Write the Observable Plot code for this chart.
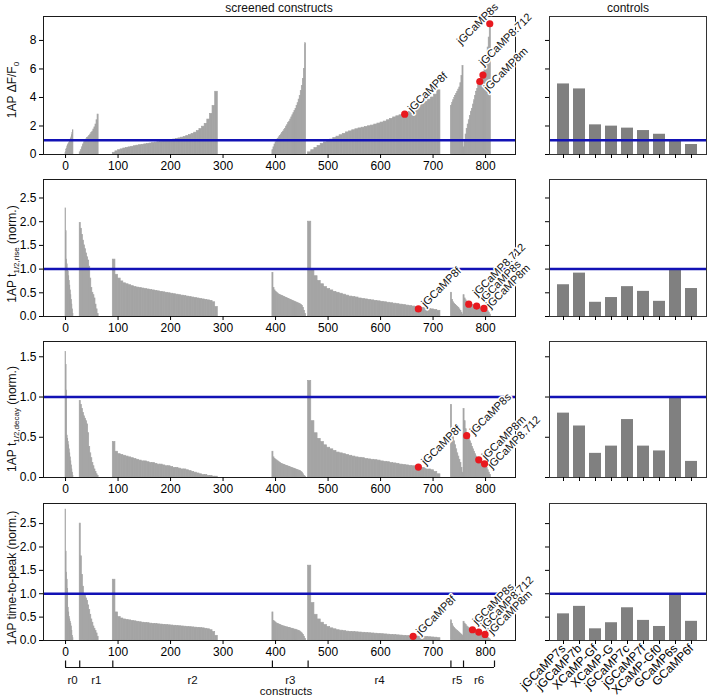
<!DOCTYPE html>
<html><head><meta charset="utf-8">
<script src="https://cdn.jsdelivr.net/npm/d3@7"></script>
<script src="https://cdn.jsdelivr.net/npm/@observablehq/plot@0.6"></script>
<style>
body{margin:0;background:#fff;}
#chart{position:relative;width:707px;height:697px;overflow:hidden;font-family:"Liberation Sans",Arial,sans-serif;}
#chart svg{position:absolute;overflow:visible;}
</style></head><body><div id="chart"></div>
<script>
// ---------- data ----------
const rounds = ["r0","r1","r2","r3","r4","r5","r6"];
const roundStart = [0,27,90,394,462,734,758];
const roundCount = [15,36,200,64,252,24,52];
const screenedEnd = 817;
const constructTicks = [0,100,200,300,400,500,600,700,800];

// values per round (each value covers roundCount/length constructs)
const dffValues = [
 [0.1,0.3,0.4,0.5,0.6,0.7,0.75,0.8,0.9,1.0,1.1,1.2,1.35,1.5,1.7],
 [0.15,0.3,0.5,0.7,0.85,0.95,1.05,1.15,1.2,1.3,1.4,1.5,1.6,1.75,1.9,2.1,2.4,2.8],
 [0.12,0.22,0.3,0.36,0.42,0.46,0.5,0.54,0.58,0.62,0.65,0.68,0.71,0.74,0.77,0.8,0.83,0.86,0.89,0.92,
  0.95,0.98,1.01,1.05,1.09,1.13,1.18,1.23,1.29,1.36,1.44,1.53,1.64,1.78,1.95,2.15,2.45,2.85,3.4,4.4],
 [0.3,0.5,0.7,0.85,1.0,1.1,1.2,1.3,1.4,1.5,1.6,1.7,1.8,1.95,2.05,2.2,2.3,2.45,2.6,2.75,2.9,3.05,3.2,3.4,3.6,3.85,4.1,4.45,4.8,5.3,6.0,7.8],
 [0.15,0.3,0.45,0.6,0.75,0.85,0.95,1.05,1.15,1.25,1.35,1.45,1.55,1.62,1.7,1.77,1.83,1.88,1.93,1.98,
  2.03,2.1,2.17,2.24,2.31,2.4,2.5,2.6,2.68,2.75,2.8,2.88,2.98,3.1,3.25,3.4,3.55,3.7,3.85,4.0,4.2,4.5],
 [3.4,3.6,3.8,3.95,4.1,4.25,4.4,4.55,4.7,5.0,5.5,6.2],
 [0.5,1.0,1.4,1.8,2.1,2.4,2.7,3.0,3.2,3.5,3.8,4.1,4.4,4.6,4.85,5.1,5.3,5.5,5.6,5.8,6.1,6.5,7.0,7.5,8.2,9.2]
];
const riseValues = [
 [2.28,1.8,1.2,1.1,1.0,0.95,0.85,0.75,0.65,0.55,0.45,0.35,0.25,0.15,0.05],
 [1.97,1.85,1.72,1.6,1.5,1.42,1.33,1.25,1.18,1.05,0.8,0.6,0.5,0.45,0.38,0.25,0.15,0.05],
 [1.2,0.88,0.8,0.74,0.7,0.68,0.66,0.64,0.62,0.61,0.6,0.59,0.58,0.57,0.56,0.55,0.54,0.53,0.52,0.51,
  0.5,0.49,0.48,0.47,0.46,0.45,0.44,0.43,0.42,0.41,0.4,0.39,0.38,0.37,0.36,0.35,0.34,0.33,0.3,0.2],
 [0.92,0.6,0.55,0.52,0.5,0.48,0.46,0.45,0.44,0.43,0.42,0.41,0.4,0.39,0.38,0.37,0.36,0.35,0.34,0.33,0.32,0.31,0.3,0.29,0.28,0.27,0.26,0.24,0.22,0.18,0.12,0.05],
 [2.0,1.0,0.85,0.75,0.68,0.62,0.58,0.55,0.52,0.5,0.48,0.46,0.44,0.42,0.41,0.4,0.38,0.37,0.36,0.35,
  0.34,0.33,0.32,0.31,0.3,0.29,0.28,0.27,0.26,0.25,0.24,0.23,0.22,0.21,0.2,0.19,0.18,0.17,0.16,0.15,0.14,0.12],
 [0.5,0.35,0.3,0.27,0.24,0.22,0.2,0.18,0.15,0.12,0.08,0.04],
 [0.45,0.38,0.34,0.31,0.29,0.27,0.26,0.25,0.24,0.235,0.23,0.225,0.22,0.215,0.21,0.2,0.19,0.18,0.175,0.17,0.16,0.15,0.13,0.11,0.08,0.04]
];
const decayValues = [
 [1.56,1.4,1.08,0.52,0.48,0.44,0.4,0.35,0.3,0.25,0.2,0.15,0.1,0.06,0.02],
 [0.95,0.9,0.85,0.8,0.76,0.73,0.7,0.66,0.55,0.38,0.3,0.24,0.18,0.14,0.1,0.07,0.04,0.02],
 [0.44,0.32,0.29,0.28,0.27,0.26,0.25,0.24,0.23,0.22,0.21,0.2,0.2,0.19,0.18,0.18,0.17,0.16,0.16,0.15,
  0.14,0.14,0.13,0.12,0.12,0.11,0.1,0.1,0.09,0.08,0.07,0.06,0.05,0.04,0.03,0.03,0.02,0.02,0.01,0.01],
 [0.32,0.25,0.23,0.22,0.21,0.2,0.19,0.18,0.17,0.165,0.16,0.155,0.15,0.145,0.14,0.135,0.13,0.125,0.12,0.115,0.11,0.105,0.1,0.095,0.09,0.085,0.08,0.07,0.06,0.04,0.02,0.01],
 [1.2,0.7,0.55,0.48,0.44,0.4,0.37,0.35,0.33,0.31,0.3,0.29,0.28,0.27,0.26,0.25,0.245,0.24,0.23,0.225,
  0.22,0.215,0.21,0.2,0.195,0.19,0.18,0.175,0.17,0.16,0.155,0.15,0.145,0.14,0.13,0.125,0.12,0.11,0.1,0.09,0.07,0.04],
 [0.9,0.6,0.5,0.45,0.4,0.35,0.3,0.26,0.22,0.18,0.12,0.06],
 [0.85,0.7,0.6,0.55,0.52,0.48,0.45,0.42,0.38,0.35,0.32,0.29,0.26,0.24,0.22,0.21,0.2,0.19,0.18,0.17,0.16,0.14,0.12,0.09,0.06,0.03]
];
const peakValues = [
 [2.8,1.9,1.45,1.3,1.1,0.7,0.6,0.5,0.45,0.4,0.35,0.3,0.2,0.1,0.05],
 [2.5,1.8,1.4,1.15,1.0,0.95,0.9,0.85,0.75,0.65,0.55,0.45,0.38,0.3,0.25,0.2,0.15,0.08],
 [1.3,0.6,0.5,0.47,0.45,0.44,0.43,0.42,0.41,0.4,0.39,0.38,0.375,0.37,0.36,0.355,0.35,0.345,0.34,0.335,
  0.33,0.325,0.32,0.315,0.31,0.305,0.3,0.295,0.29,0.285,0.28,0.275,0.27,0.265,0.26,0.25,0.24,0.22,0.18,0.1],
 [0.6,0.42,0.4,0.38,0.36,0.35,0.34,0.33,0.32,0.31,0.3,0.3,0.29,0.28,0.28,0.27,0.27,0.26,0.25,0.25,0.24,0.23,0.23,0.22,0.21,0.2,0.19,0.17,0.15,0.12,0.08,0.03],
 [1.6,0.8,0.55,0.45,0.38,0.33,0.29,0.26,0.24,0.22,0.21,0.2,0.19,0.185,0.18,0.175,0.17,0.165,0.16,0.155,
  0.15,0.145,0.14,0.135,0.13,0.125,0.12,0.115,0.11,0.105,0.1,0.095,0.09,0.09,0.085,0.08,0.08,0.075,0.07,0.065,0.06,0.05],
 [0.43,0.35,0.3,0.27,0.24,0.22,0.2,0.18,0.16,0.14,0.12,0.1],
 [0.4,0.36,0.33,0.3,0.28,0.26,0.25,0.24,0.23,0.22,0.21,0.2,0.19,0.18,0.17,0.165,0.16,0.15,0.14,0.13,0.12,0.1,0.08,0.06,0.04,0.02]
];

const controlNames = ["jGCaMP7s","jGCaMP7b","XCaMP-Gf","XCaMP-G","jGCaMP7c","jGCaMP7f","XCaMP-Gf0","GCaMP6s","GCaMP6f"];
const controlDff   = [4.95,4.6,2.08,1.99,1.85,1.68,1.42,1.0,0.7];
const controlRise  = [0.67,0.915,0.3,0.4,0.63,0.53,0.32,1.0,0.59];
const controlDecay = [0.8,0.64,0.3,0.39,0.72,0.39,0.33,1.0,0.2];
const controlPeak  = [0.57,0.73,0.25,0.38,0.7,0.43,0.3,1.0,0.41];

const highlightNames = ["jGCaMP8f","jGCaMP8s","jGCaMP8.712","jGCaMP8m"];
const dffHighlightX = [646,808,795,789];
const dffHighlightY = [2.83,9.17,5.57,5.12];
const riseHighlightX = [672,783,768,797];
const riseHighlightY = [0.16,0.22,0.26,0.17];
const decayHighlightX = [672,764,798,787];
const decayHighlightY = [0.13,0.52,0.17,0.22];
const peakHighlightX = [662,775,787,799];
const peakHighlightY = [0.09,0.23,0.18,0.13];

// ---------- layout / styling ----------
const FONT = '"Liberation Sans", Arial, sans-serif';
const BAR_GRAY = "#a4a4a4", CTRL_GRAY = "#808080", BLUE = "#1212b5", RED = "#e8191f";
const MT = 10, MB = 30;
const rowsCfg = [
  {top:16, h:138, values:dffValues, hx:dffHighlightX, hy:dffHighlightY, ctrl:controlDff,
   domain:[0,9.68], ticks:[0,2,4,6,8], fmt:d3.format("d"),
   off:[[5,-4],[-31,19],[-2,-11],[6,8]]},
  {top:179, h:137, values:riseValues, hx:riseHighlightX, hy:riseHighlightY, ctrl:controlRise,
   domain:[0,2.89], ticks:[0,0.5,1,1.5,2,2.5], fmt:d3.format(".1f"),
   off:[[5,-4],[5,-6],[6,-10],[4,-2]]},
  {top:341, h:136, values:decayValues, hx:decayHighlightX, hy:decayHighlightY, ctrl:controlDecay,
   domain:[0,1.69], ticks:[0,0.5,1,1.5], fmt:d3.format(".1f"),
   off:[[5,-4],[5,-3],[5,3],[5,-2]]},
  {top:503, h:137, values:peakValues, hx:peakHighlightX, hy:peakHighlightY, ctrl:controlPeak,
   domain:[0,2.93], ticks:[0,0.5,1,1.5,2,2.5], fmt:d3.format(".1f"),
   off:[[5,-3],[2,-7],[4,-5],[5,-2]]}
];
const xDomain = [-42, 857];
const chart = document.getElementById("chart");

function barsFrom(values) {
  const out = [];
  values.forEach((arr, r) => {
    const w = roundCount[r] / arr.length;
    arr.forEach((v, i) => out.push({x1: roundStart[r] + i*w, x2: roundStart[r] + (i+1)*w, v}));
  });
  return out;
}

function place(svg, left, top) {
  svg.style.left = left + "px";
  svg.style.top = top + "px";
  chart.appendChild(svg);
}

rowsCfg.forEach((row, k) => {
  const dots = highlightNames.map((n, i) => ({name: n, x: row.hx[i], y: row.hy[i], dx: row.off[i][0], dy: row.off[i][1]}));
  const left = Plot.plot({
    width: 540, height: MT + row.h + MB,
    marginLeft: 43, marginRight: 25, marginTop: MT, marginBottom: MB,
    style: {fontFamily: FONT, fontSize: "12px", overflow: "visible", background: "transparent"},
    x: {domain: xDomain},
    y: {domain: row.domain},
    marks: [
      Plot.rectY(barsFrom(row.values), {x1: "x1", x2: "x2", y: "v", fill: BAR_GRAY, stroke: BAR_GRAY, strokeWidth: 0.7}),
      Plot.ruleY([1], {stroke: BLUE, strokeWidth: 2.5}),
      Plot.frame({stroke: "#1a1a1a"}),
      ...dots.map(d => Plot.text([d], {x: "x", y: "y", text: "name", rotate: -45, textAnchor: "start",
        dx: d.dx, dy: d.dy, fill: "#111", stroke: "white", strokeWidth: 3, fontSize: 11})),
      Plot.dot(dots, {x: "x", y: "y", r: 3.6, fill: RED}),
      Plot.axisX({ticks: constructTicks, tickSize: 4, tickPadding: 3, label: null, fontSize: 12}),
      Plot.axisY({ticks: row.ticks, tickFormat: row.fmt, tickSize: 4, tickPadding: 3, label: null, fontSize: 12})
    ]
  });
  place(left, 0, row.top - MT);

  const ctrlData = controlNames.map((n, i) => ({name: n, v: row.ctrl[i]}));
  const isLast = k === rowsCfg.length - 1;
  const right = Plot.plot({
    width: 183, height: MT + row.h + MB,
    marginLeft: 25, marginRight: 1, marginTop: MT, marginBottom: MB,
    style: {fontFamily: FONT, fontSize: "12px", overflow: "visible", background: "transparent"},
    x: {type: "band", domain: controlNames, paddingInner: 0.22, paddingOuter: 0.45},
    y: {domain: row.domain},
    marks: [
      Plot.barY(ctrlData, {x: "name", y: "v", fill: CTRL_GRAY}),
      Plot.ruleY([1], {stroke: BLUE, strokeWidth: 2.5}),
      Plot.frame({stroke: "#333"}),
      isLast
        ? Plot.axisX({tickSize: 4, tickPadding: 2, tickRotate: -45, label: null, fontSize: 12})
        : Plot.axisX({tickSize: 4, tickFormat: () => "", label: null}),
      Plot.axisY({ticks: row.ticks, tickFormat: () => "", tickSize: 4, label: null})
    ]
  });
  place(right, 524, row.top - MT);
});

// bracket of screening rounds under the bottom-left panel
const bracketRounds = rounds.map((r, i) => ({
  name: r, a: roundStart[i], b: i < rounds.length - 1 ? roundStart[i+1] : screenedEnd
}));
const bracket = Plot.plot({
  width: 540, height: 49, marginLeft: 43, marginRight: 25, marginTop: 0, marginBottom: 0,
  style: {fontFamily: FONT, fontSize: "12px", overflow: "visible", background: "transparent"},
  x: {domain: xDomain, axis: null},
  y: {domain: [0, 49], range: [0, 49], axis: null},
  marks: [
    Plot.ruleY([19], {x1: roundStart[0], x2: screenedEnd, stroke: "#111", strokeWidth: 1.2}),
    Plot.ruleX([...roundStart, screenedEnd], {y1: 12.5, y2: 19, stroke: "#111", strokeWidth: 1.2}),
    Plot.text(bracketRounds, {x: d => (d.a + d.b) / 2, y: 31.5, text: "name", fontSize: 11.5, fill: "#111"}),
    Plot.text(["constructs"], {x: 420, y: 42.5, text: d => d, fontSize: 11.5, fill: "#111"})
  ]
});
place(bracket, 0, 648);

// overlay: panel titles and y-axis titles (with subscripts)
const ov = d3.create("svg").attr("width", 707).attr("height", 697)
  .style("left", "0px").style("top", "0px").style("pointer-events", "none")
  .attr("font-family", FONT).attr("font-size", 12).attr("fill", "#111");
ov.append("text").attr("x", 279).attr("y", 12).attr("text-anchor", "middle").text("screened constructs");
ov.append("text").attr("x", 628).attr("y", 12).attr("text-anchor", "middle").text("controls");
const yTitles = [
  {cy: 90, parts: [["1AP ΔF/F", false], ["0", true]]},
  {cy: 254, parts: [["1AP t", false], ["1/2,rise", true], [" (norm.)", false]]},
  {cy: 419, parts: [["1AP t", false], ["1/2,decay", true], [" (norm.)", false]]},
  {cy: 578, parts: [["1AP time-to-peak (norm.)", false]]}
];
yTitles.forEach(t => {
  const txt = ov.append("text").attr("transform", `translate(16,${t.cy}) rotate(-90)`).attr("text-anchor", "middle");
  let sub = false;
  t.parts.forEach(([s, isSub]) => {
    const ts = txt.append("tspan").text(s);
    if (isSub && !sub) { ts.attr("dy", 3).attr("font-size", 8); sub = true; }
    else if (!isSub && sub) { ts.attr("dy", -3).attr("font-size", 12); sub = false; }
  });
});
place(ov.node(), 0, 0);
</script>
</body></html>
